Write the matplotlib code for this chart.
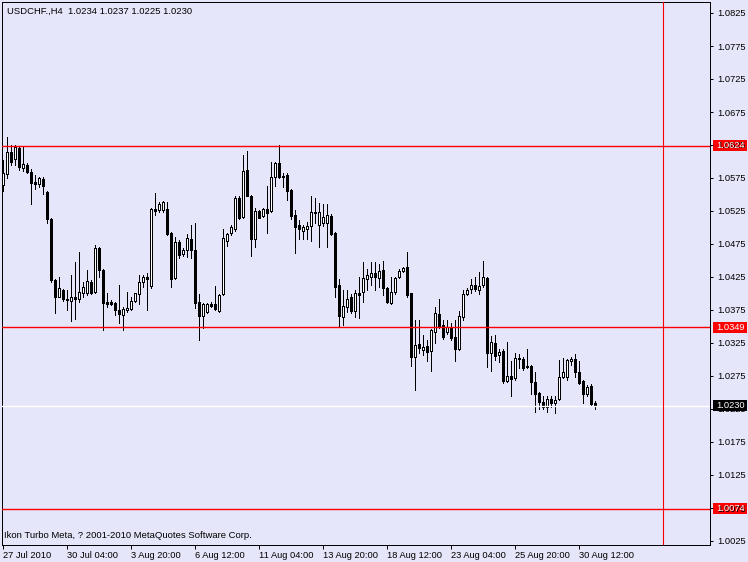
import matplotlib
matplotlib.use("Agg")
import matplotlib.pyplot as plt
from matplotlib.patches import Rectangle
from matplotlib.transforms import blended_transform_factory

# USDCHF H4 bars, 27 Jul 2010 00:00 .. 31 Aug 2010 04:00
opens = [1.0565, 1.0581, 1.0614, 1.0604, 1.0621, 1.0590, 1.0595, 1.0584, 1.0569, 1.0566,
         1.0574, 1.0554, 1.0513, 1.0421, 1.0395, 1.0406, 1.0391, 1.0389, 1.0395, 1.0391,
         1.0401, 1.0401, 1.0418, 1.0403, 1.0469, 1.0436, 1.0387, 1.0387, 1.0386, 1.0375,
         1.0368, 1.0375, 1.0377, 1.0389, 1.0400, 1.0418, 1.0425, 1.0412, 1.0528, 1.0527,
         1.0527, 1.0528, 1.0492, 1.0424, 1.0478, 1.0460, 1.0466, 1.0483, 1.0466, 1.0387,
         1.0366, 1.0372, 1.0384, 1.0384, 1.0374, 1.0400, 1.0480, 1.0492, 1.0497, 1.0544,
         1.0516, 1.0587, 1.0548, 1.0483, 1.0525, 1.0518, 1.0528, 1.0525, 1.0577, 1.0598,
         1.0578, 1.0580, 1.0557, 1.0519, 1.0504, 1.0495, 1.0497, 1.0503, 1.0522, 1.0504,
         1.0507, 1.0507, 1.0518, 1.0492, 1.0413, 1.0365, 1.0380, 1.0394, 1.0374, 1.0401,
         1.0403, 1.0422, 1.0425, 1.0431, 1.0424, 1.0436, 1.0409, 1.0386, 1.0403, 1.0425,
         1.0434, 1.0440, 1.0400, 1.0304, 1.0323, 1.0315, 1.0321, 1.0313, 1.0342, 1.0369,
         1.0353, 1.0342, 1.0349, 1.0334, 1.0316, 1.0365, 1.0400, 1.0407, 1.0413, 1.0406,
         1.0413, 1.0424, 1.0310, 1.0325, 1.0307, 1.0313, 1.0268, 1.0275, 1.0272, 1.0301,
         1.0301, 1.0290, 1.0290, 1.0266, 1.0250, 1.0236, 1.0228, 1.0240, 1.0234, 1.0240,
         1.0274, 1.0274, 1.0298, 1.0300, 1.0281, 1.0268, 1.0248, 1.0260, 1.0234]
highs = [1.0602, 1.0637, 1.0625, 1.0625, 1.0622, 1.0622, 1.0598, 1.0589, 1.0580, 1.0577,
         1.0577, 1.0555, 1.0515, 1.0422, 1.0425, 1.0407, 1.0406, 1.0428, 1.0447, 1.0463,
         1.0418, 1.0436, 1.0421, 1.0474, 1.0471, 1.0437, 1.0401, 1.0390, 1.0387, 1.0413,
         1.0380, 1.0403, 1.0395, 1.0401, 1.0428, 1.0428, 1.0431, 1.0529, 1.0553, 1.0539,
         1.0540, 1.0539, 1.0493, 1.0486, 1.0481, 1.0469, 1.0490, 1.0504, 1.0507, 1.0400,
         1.0386, 1.0386, 1.0387, 1.0412, 1.0399, 1.0497, 1.0492, 1.0504, 1.0547, 1.0547,
         1.0610, 1.0616, 1.0549, 1.0530, 1.0527, 1.0530, 1.0563, 1.0600, 1.0599, 1.0625,
         1.0583, 1.0583, 1.0559, 1.0527, 1.0512, 1.0504, 1.0509, 1.0547, 1.0544, 1.0537,
         1.0536, 1.0536, 1.0521, 1.0493, 1.0422, 1.0406, 1.0406, 1.0400, 1.0406, 1.0425,
         1.0447, 1.0437, 1.0447, 1.0447, 1.0444, 1.0450, 1.0410, 1.0425, 1.0425, 1.0437,
         1.0440, 1.0463, 1.0401, 1.0360, 1.0360, 1.0337, 1.0330, 1.0346, 1.0380, 1.0391,
         1.0360, 1.0360, 1.0356, 1.0360, 1.0374, 1.0406, 1.0409, 1.0422, 1.0425, 1.0433,
         1.0450, 1.0425, 1.0336, 1.0337, 1.0316, 1.0316, 1.0327, 1.0298, 1.0310, 1.0309,
         1.0304, 1.0316, 1.0292, 1.0281, 1.0251, 1.0244, 1.0244, 1.0245, 1.0244, 1.0300,
         1.0303, 1.0301, 1.0304, 1.0309, 1.0298, 1.0269, 1.0262, 1.0263, 1.0237]
lows = [1.0556, 1.0575, 1.0595, 1.0595, 1.0587, 1.0586, 1.0583, 1.0536, 1.0559, 1.0562,
        1.0551, 1.0507, 1.0418, 1.0371, 1.0394, 1.0389, 1.0375, 1.0359, 1.0362, 1.0387,
        1.0394, 1.0398, 1.0400, 1.0401, 1.0425, 1.0345, 1.0380, 1.0383, 1.0368, 1.0356,
        1.0345, 1.0372, 1.0375, 1.0387, 1.0384, 1.0410, 1.0375, 1.0409, 1.0519, 1.0524,
        1.0524, 1.0489, 1.0410, 1.0422, 1.0454, 1.0457, 1.0456, 1.0454, 1.0378, 1.0330,
        1.0347, 1.0371, 1.0380, 1.0375, 1.0372, 1.0398, 1.0472, 1.0489, 1.0495, 1.0513,
        1.0515, 1.0547, 1.0457, 1.0471, 1.0514, 1.0516, 1.0492, 1.0524, 1.0563, 1.0575,
        1.0562, 1.0542, 1.0513, 1.0462, 1.0483, 1.0483, 1.0483, 1.0480, 1.0507, 1.0471,
        1.0503, 1.0471, 1.0489, 1.0395, 1.0350, 1.0353, 1.0372, 1.0371, 1.0365, 1.0363,
        1.0387, 1.0406, 1.0413, 1.0406, 1.0410, 1.0397, 1.0386, 1.0384, 1.0400, 1.0424,
        1.0433, 1.0395, 1.0290, 1.0254, 1.0310, 1.0307, 1.0298, 1.0283, 1.0325, 1.0348,
        1.0331, 1.0339, 1.0330, 1.0298, 1.0315, 1.0360, 1.0397, 1.0401, 1.0404, 1.0400,
        1.0410, 1.0289, 1.0283, 1.0300, 1.0296, 1.0265, 1.0266, 1.0245, 1.0269, 1.0287,
        1.0284, 1.0287, 1.0248, 1.0221, 1.0225, 1.0225, 1.0221, 1.0228, 1.0219, 1.0239,
        1.0272, 1.0269, 1.0292, 1.0274, 1.0263, 1.0234, 1.0244, 1.0231, 1.0225]
closes = [1.0583, 1.0614, 1.0600, 1.0622, 1.0592, 1.0596, 1.0584, 1.0568, 1.0566, 1.0575,
          1.0563, 1.0513, 1.0421, 1.0394, 1.0409, 1.0391, 1.0390, 1.0394, 1.0392, 1.0403,
          1.0410, 1.0419, 1.0401, 1.0469, 1.0436, 1.0386, 1.0384, 1.0384, 1.0375, 1.0369,
          1.0377, 1.0378, 1.0389, 1.0400, 1.0418, 1.0425, 1.0422, 1.0528, 1.0525, 1.0536,
          1.0539, 1.0490, 1.0422, 1.0478, 1.0459, 1.0466, 1.0484, 1.0466, 1.0386, 1.0366,
          1.0384, 1.0384, 1.0381, 1.0377, 1.0398, 1.0484, 1.0490, 1.0500, 1.0544, 1.0515,
          1.0586, 1.0548, 1.0483, 1.0525, 1.0515, 1.0528, 1.0522, 1.0577, 1.0598, 1.0577,
          1.0577, 1.0556, 1.0518, 1.0501, 1.0497, 1.0500, 1.0503, 1.0524, 1.0524, 1.0524,
          1.0516, 1.0519, 1.0490, 1.0410, 1.0366, 1.0381, 1.0392, 1.0374, 1.0400, 1.0398,
          1.0424, 1.0428, 1.0431, 1.0425, 1.0434, 1.0409, 1.0387, 1.0403, 1.0424, 1.0434,
          1.0439, 1.0397, 1.0304, 1.0322, 1.0318, 1.0319, 1.0312, 1.0345, 1.0371, 1.0349,
          1.0334, 1.0349, 1.0333, 1.0316, 1.0366, 1.0400, 1.0406, 1.0413, 1.0407, 1.0412,
          1.0425, 1.0310, 1.0327, 1.0306, 1.0312, 1.0268, 1.0275, 1.0271, 1.0302, 1.0302,
          1.0287, 1.0289, 1.0266, 1.0248, 1.0236, 1.0228, 1.0240, 1.0234, 1.0239, 1.0274,
          1.0281, 1.0300, 1.0300, 1.0281, 1.0265, 1.0248, 1.0259, 1.0233, 1.0230]

time_labels = ["27 Jul 2010", "30 Jul 04:00", "3 Aug 20:00", "6 Aug 12:00", "11 Aug 04:00",
               "13 Aug 20:00", "18 Aug 12:00", "23 Aug 04:00", "25 Aug 20:00", "30 Aug 12:00"]
time_bars = [0, 16, 32, 48, 64, 80, 96, 112, 128, 144]
price_ticks = [1.0825, 1.0775, 1.0725, 1.0675, 1.0625, 1.0575, 1.0525, 1.0475, 1.0425,
               1.0375, 1.0325, 1.0275, 1.0225, 1.0175, 1.0125, 1.0075, 1.0025]
red_levels = [1.0624, 1.0349, 1.0074]
bid = 1.0230
vline_bar = 165
title = "USDCHF.,H4  1.0234 1.0237 1.0225 1.0230"
footer = "Ikon Turbo Meta, ? 2001-2010 MetaQuotes Software Corp."

bg = "#e6e6fa"
W, H = 748, 562
plt.rcParams['font.family'] = ['Liberation Sans', 'DejaVu Sans']
fig = plt.figure(figsize=(W / 100, H / 100), dpi=100, facecolor=bg)
ax = fig.add_axes([2 / W, 1 - 545 / H, 708 / W, 543 / H], facecolor=bg)

# 4 px per bar, 6600 px per price unit
ax.set_xlim(-0.25, 176.75)
ax.set_ylim(1.0825 - 532 / 6600, 1.0825 + 11 / 6600)

px = 0.72  # one pixel line
for i, (o, h, l, c) in enumerate(zip(opens, highs, lows, closes)):
    ax.vlines(i, l, h, color="black", lw=px, zorder=2, antialiased=False)
    bottom = min(o, c)
    height = max(abs(c - o), 0.00002)
    ax.add_patch(Rectangle((i - 0.25, bottom), 0.5, height,
                           facecolor="white" if c >= o else "black",
                           edgecolor="black", lw=px, zorder=3, antialiased=False))

for lvl in red_levels:
    ax.axhline(lvl, color="red", lw=1, zorder=4)
ax.axhline(bid, color="white", lw=1, zorder=4)
ax.axvline(vline_bar, color="red", lw=0.8, zorder=4)

for sp in ax.spines.values():
    sp.set_color("black")
    sp.set_linewidth(px)
    sp.set_antialiased(False)

ax.yaxis.tick_right()
ax.set_yticks(price_ticks)
ax.set_yticklabels(["%.4f" % p for p in price_ticks])
ax.tick_params(axis="y", direction="out", length=2, width=px, pad=3,
               labelsize=6.7, colors="black")
ax.set_xticks(time_bars)
ax.set_xticklabels(time_labels, ha="left")
ax.tick_params(axis="x", direction="out", length=3, width=px, pad=1.5,
               labelsize=6.7, colors="black")

# price labels for the lines on the right scale
tr = blended_transform_factory(ax.transAxes, ax.transData)
box_h = 11 / 6600
for lvl, col, z in [(red_levels[0], "red", 1), (red_levels[1], "red", 1),
                    (red_levels[2], "red", 1), (bid, "black", 3)]:
    ax.add_patch(Rectangle(((712.5 - 2) / 708, lvl - box_h / 2), 34.5 / 708, box_h,
                           facecolor=col, edgecolor="none", transform=tr,
                           clip_on=False, zorder=z))
    ax.text((716.5 - 2) / 708, lvl, "%.4f" % lvl, transform=tr, color="white",
            fontsize=6.7, ha="left", va="center", clip_on=False, zorder=5)

ax.text(5 / 708, 1 - 9 / 543, title, transform=ax.transAxes, fontsize=6.8,
        ha="left", va="center", color="black")
ax.text(2 / 708, 9 / 543, footer, transform=ax.transAxes, fontsize=6.8,
        ha="left", va="center", color="black")

fig.savefig("out.png", dpi=100, facecolor=bg)
